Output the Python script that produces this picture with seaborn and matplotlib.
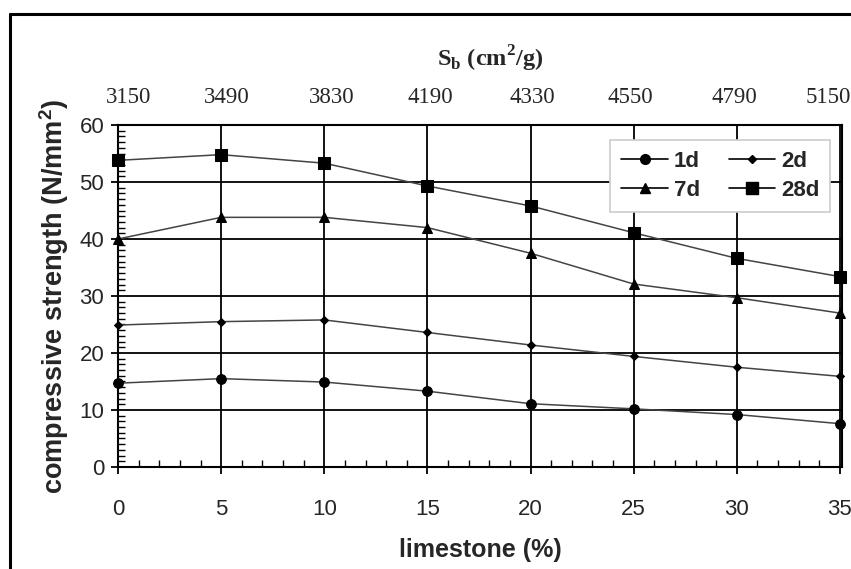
import pandas as pd
import numpy as np
import matplotlib.pyplot as plt
import matplotlib.transforms as mtransforms
import seaborn as sns
from matplotlib.lines import Line2D
from matplotlib.ticker import MultipleLocator

# Datos
limestone = [0, 5, 10, 15, 20, 25, 30, 35]
sb_labels = ['3150', '3490', '3830', '4190', '4330', '4550', '4790', '5150']
d1 = [14.7, 15.5, 14.9, 13.3, 11.1, 10.2, 9.2, 7.6]
d2 = [24.9, 25.5, 25.8, 23.6, 21.4, 19.4, 17.5, 15.9]
d7 = [40.0, 43.8, 43.8, 42.0, 37.5, 32.1, 29.7, 27.0]
d28 = [53.8, 54.8, 53.3, 49.3, 45.8, 41.1, 36.6, 33.4]
edades = ['1d', '2d', '7d', '28d']

df = pd.DataFrame({
    'limestone': limestone * 4,
    'strength': d1 + d2 + d7 + d28,
    'edad': [e for e in edades for _ in limestone],
})

sns.set_style('white')
plt.rcParams['font.family'] = ['Liberation Sans', 'DejaVu Sans']
serif = ['Liberation Serif', 'DejaVu Serif']

fig = plt.figure(figsize=(8.51, 5.69), dpi=100)
ax = fig.add_axes([0.1387, 0.1793, 0.8507, 0.601])

marcadores = {'1d': 'o', '2d': 'D', '7d': '^', '28d': 's'}
tamanos = {'1d': 7, '2d': 4.5, '7d': 7, '28d': 8.5}
sns.lineplot(data=df, x='limestone', y='strength', hue='edad', style='edad',
             markers=marcadores, dashes=False, palette={e: '#444444' for e in edades},
             hue_order=edades, style_order=edades, legend=False, lw=1.1, ax=ax)

for linea, e in zip(ax.lines, edades):
    linea.set_markerfacecolor('black')
    linea.set_markeredgecolor('black')
    linea.set_markersize(tamanos[e])
    linea.set_zorder(5)
    linea.set_clip_on(False)

ax.set_xlim(0, 35.1)
ax.set_ylim(0, 60)
ax.set_xticks(limestone)
ax.set_yticks(range(0, 61, 10))
ax.xaxis.set_minor_locator(MultipleLocator(1))
ax.yaxis.set_minor_locator(MultipleLocator(1))
ax.grid(True, which='major', color='black', lw=1.3)
ax.set_axisbelow(True)
for s in ax.spines.values():
    s.set_color('black')
    s.set_linewidth(1.5)

ax.tick_params(which='major', direction='out', length=5, width=1.3, labelsize=16,
               color='black', bottom=True, left=True)
ax.tick_params(which='minor', direction='in', length=5, width=1.0, color='black',
               bottom=True, left=True)
ax.tick_params(axis='x', pad=18)
ax.tick_params(axis='y', pad=5)

ax.set_xlabel('limestone (%)', fontsize=18, fontweight='bold', labelpad=13)
ax.set_ylabel('compressive strength (N/mm$^\\mathregular{2}$)', fontsize=19.5,
              fontweight='bold', labelpad=6)

# eje superior con la superficie Blaine
arriba = ax.secondary_xaxis('top')
arriba.set_xticks(limestone, labels=sb_labels)
arriba.tick_params(length=0, labelsize=16.5, pad=12)
desplaz = [11, 6, 7, 3, 2, -3, -2, -12]
for t, dx in zip(arriba.get_xticklabels(), desplaz):
    t.set_family(serif)
    t.set_transform(t.get_transform() + mtransforms.ScaledTranslation(dx / 100, 0, fig.dpi_scale_trans))
arriba.spines['top'].set_visible(False)
arriba.set_xlabel('S$_\\mathregular{b}$ (cm$^\\mathregular{2}$/g)', fontsize=17.5,
                  fontweight='bold', family=serif, labelpad=15)
arriba.xaxis.label.set_x(0.514)

# leyenda (filas: 1d 2d / 7d 28d)
orden = ['1d', '7d', '2d', '28d']
handles = [Line2D([], [], color='black', lw=1.2, marker=marcadores[e],
                  markersize=tamanos[e], markerfacecolor='black', markeredgecolor='black')
           for e in orden]
leg = ax.legend(handles, orden, ncol=2, loc='upper left', bbox_to_anchor=(0.68, 0.956),
                borderaxespad=0, frameon=True, fancybox=False, framealpha=1,
                edgecolor='#cccccc', prop={'weight': 'bold', 'size': 16},
                handlelength=2.1, handletextpad=0.25, columnspacing=1.3,
                borderpad=0.5, labelspacing=0.35)
leg.get_frame().set_linewidth(1.2)
leg.set_zorder(10)

# marco exterior
fig.add_artist(Line2D([0.0118, 0.0118], [0, 0.9754], color='black', lw=2.2))
fig.add_artist(Line2D([0.0118, 1], [0.9754, 0.9754], color='black', lw=2.2))

plt.savefig('out.png', dpi=100)
